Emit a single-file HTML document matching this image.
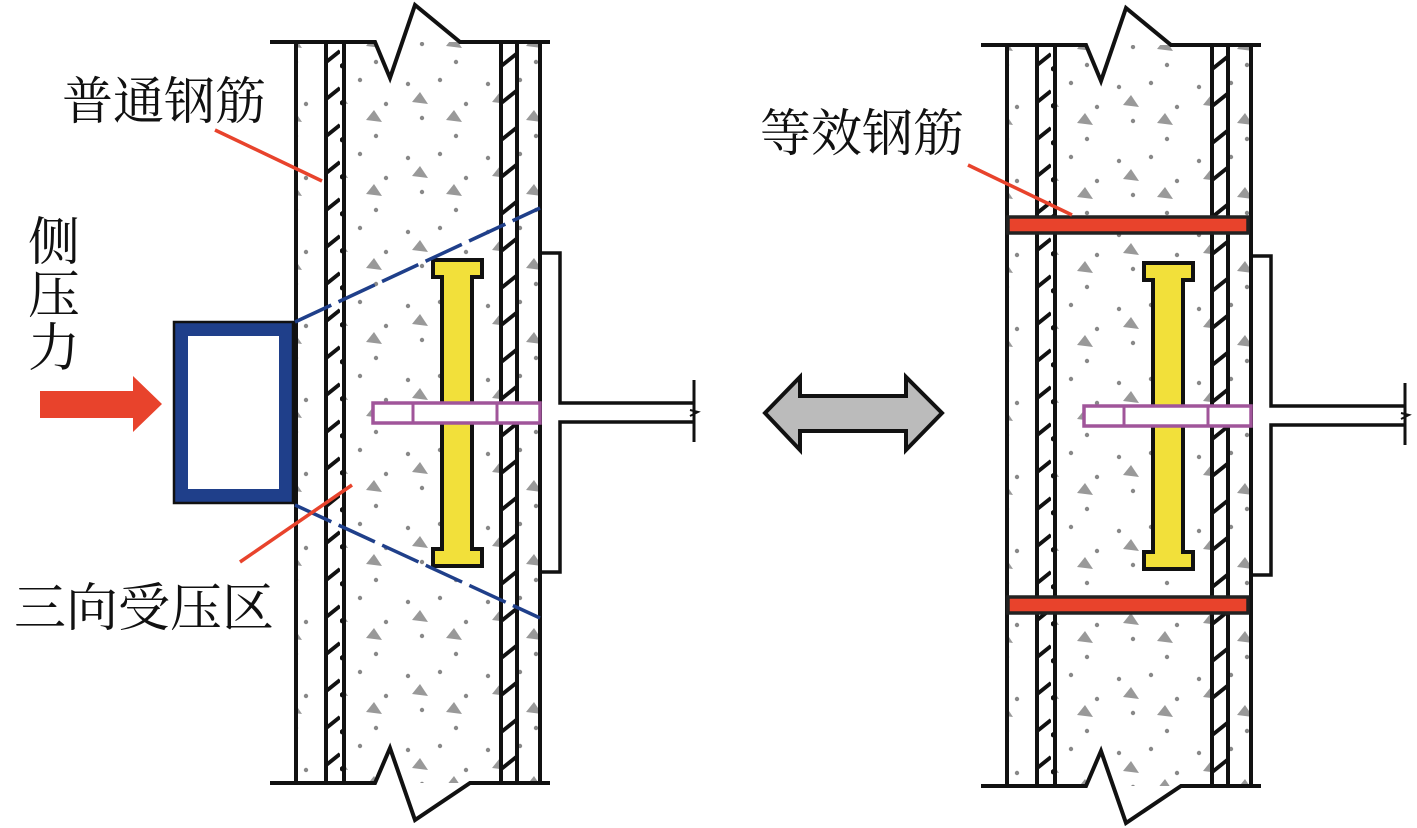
<!DOCTYPE html>
<html><head><meta charset="utf-8"><style>
html,body{margin:0;padding:0;background:#fff;}
svg{display:block;}
text{font-family:"Liberation Serif","Noto Serif CJK SC",serif;fill:#111;}
</style></head><body>
<svg width="1417" height="828" viewBox="0 0 1417 828" xmlns="http://www.w3.org/2000/svg">
<defs>
<pattern id="agg" width="80" height="74" patternUnits="userSpaceOnUse">
<circle cx="8" cy="10" r="2.2" fill="#888"/><circle cx="40" cy="6" r="2.2" fill="#888"/>
<circle cx="66" cy="30" r="2.2" fill="#888"/><circle cx="22" cy="44" r="2.2" fill="#888"/>
<circle cx="56" cy="62" r="2.2" fill="#888"/>
<polygon points="12,28 20,18 28,30" fill="#999"/>
<polygon points="46,46 54,36 62,48" fill="#999"/>
</pattern>
<pattern id="hatch" width="20" height="37" patternUnits="userSpaceOnUse">
<line x1="0" y1="30" x2="20" y2="14" stroke="#111" stroke-width="4"/>
</pattern>
<g id="col">
<rect x="295" y="42" width="245" height="741" fill="url(#agg)"/>
<rect x="325" y="42" width="20" height="741" fill="#fff"/>
<rect x="325" y="42" width="20" height="741" fill="url(#hatch)"/>
<rect x="500" y="42" width="18" height="741" fill="#fff"/>
<rect x="500" y="42" width="18" height="741" fill="url(#hatch)"/>
<g stroke="#111" stroke-width="4" fill="none">
<line x1="296" y1="42" x2="296" y2="783"/>
<line x1="326" y1="42" x2="326" y2="783"/>
<line x1="344" y1="42" x2="344" y2="783"/>
<line x1="501" y1="42" x2="501" y2="783"/>
<line x1="517" y1="42" x2="517" y2="783"/>
<line x1="540" y1="42" x2="540" y2="783"/>
</g>
<polygon points="375,42 390,78 415,5 460,42 460,0 370,0" fill="#fff"/>
<polygon points="375,783 390,748 415,820 470,783 470,828 370,828" fill="#fff"/>
<polyline points="270,42 375,42 390,78 415,5 460,42 550,42" fill="none" stroke="#111" stroke-width="4"/>
<polyline points="270,783 375,783 390,748 415,820 470,783 550,783" fill="none" stroke="#111" stroke-width="4"/>
<path d="M433,260 H482 V277 H472 V549 H482 V566 H433 V549 H442 V277 H433 Z" fill="#f2e03a" stroke="#111" stroke-width="4"/>
<polyline points="541,253 560,253 560,403 695,403" fill="none" stroke="#111" stroke-width="3.5"/>
<polyline points="541,572 560,572 560,422 695,422" fill="none" stroke="#111" stroke-width="3.5"/>
<line x1="694" y1="380" x2="694" y2="442" stroke="#111" stroke-width="3"/>
<polyline points="690,410 698,412 690,416" fill="none" stroke="#111" stroke-width="2"/>
<rect x="373" y="403" width="167" height="20" fill="#fff" stroke="#a0559a" stroke-width="3.5"/>
<line x1="413" y1="403" x2="413" y2="423" stroke="#a0559a" stroke-width="3"/>
<line x1="497" y1="403" x2="497" y2="423" stroke="#a0559a" stroke-width="3"/>
</g>
</defs>
<use href="#col"/>
<use href="#col" transform="translate(711,3)"/>
<rect x="1008" y="217" width="240" height="16" fill="#e8432c" stroke="#222" stroke-width="3.5"/>
<rect x="1008" y="597" width="240" height="16" fill="#e8432c" stroke="#222" stroke-width="3.5"/>
<rect x="181" y="329" width="105" height="167" fill="#fff" stroke="#1f3f8a" stroke-width="14"/>
<rect x="174" y="322" width="119" height="181" fill="none" stroke="#111" stroke-width="2.5"/>
<line x1="295" y1="322" x2="540" y2="208" stroke="#1f3f8a" stroke-width="3.5" stroke-dasharray="40,8"/>
<line x1="295" y1="505" x2="540" y2="618" stroke="#1f3f8a" stroke-width="3.5" stroke-dasharray="40,8"/>
<polygon points="40,391 133,391 133,376 162,404 133,432 133,418 40,418" fill="#e8432c"/>
<polygon points="765,413 800,377 800,396 906,396 906,377 942,413 906,450 906,431 800,431 800,450" fill="#bbb" stroke="#111" stroke-width="4"/>
<line x1="215" y1="130" x2="322" y2="181" stroke="#e8432c" stroke-width="3.5"/>
<line x1="240" y1="562" x2="352" y2="485" stroke="#e8432c" stroke-width="3.5"/>
<line x1="968" y1="165" x2="1072" y2="215" stroke="#e8432c" stroke-width="3.5"/>
<text x="62" y="119" font-size="51">普通钢筋</text>
<text x="28" y="260" font-size="52">侧</text>
<text x="28" y="313" font-size="52">压</text>
<text x="28" y="366" font-size="52">力</text>
<text x="14" y="626" font-size="52">三向受压区</text>
<text x="760" y="151" font-size="51">等效钢筋</text>
</svg>
</body></html>
